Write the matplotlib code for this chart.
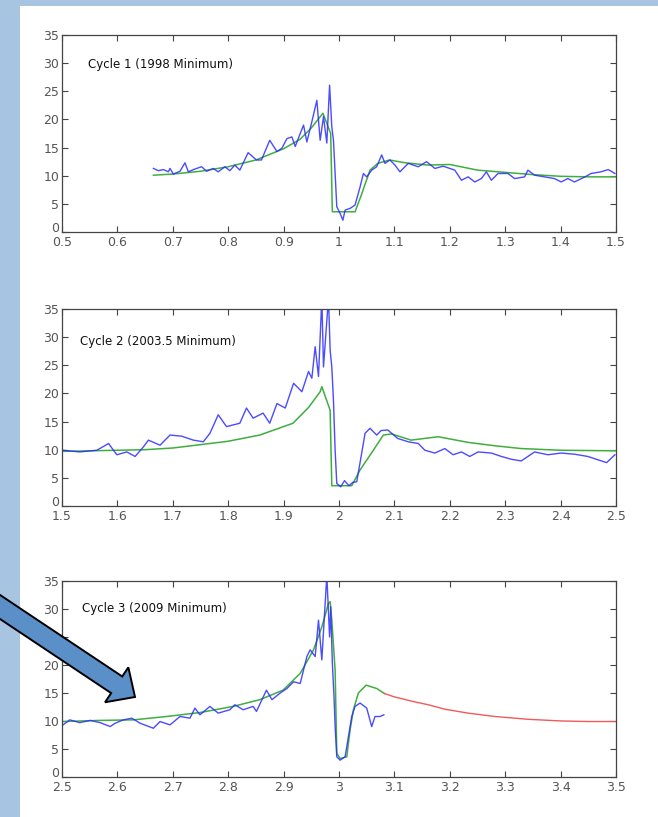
import numpy as np
import matplotlib
matplotlib.use("Agg")
import matplotlib.pyplot as plt
from matplotlib.patches import Rectangle, FancyArrow
from matplotlib.transforms import IdentityTransform

# ---- cycle 1 (1998 minimum) ----
c1_obs_x = [0.665, 0.674, 0.683, 0.692, 0.695, 0.701, 0.713, 0.722, 0.728, 0.740,
            0.752, 0.761, 0.773, 0.782, 0.794, 0.803, 0.812, 0.821, 0.836, 0.851,
            0.860, 0.875, 0.888, 0.897, 0.906, 0.915, 0.921, 0.930, 0.936, 0.942,
            0.951, 0.960, 0.966, 0.972, 0.978, 0.983, 0.987, 0.990, 0.993, 0.996,
            1.002, 1.007, 1.011, 1.020, 1.029, 1.038, 1.044, 1.050, 1.059, 1.068,
            1.077, 1.083, 1.092, 1.101, 1.110, 1.125, 1.143, 1.158, 1.173, 1.188,
            1.209, 1.221, 1.233, 1.245, 1.257, 1.266, 1.275, 1.287, 1.305, 1.317,
            1.335, 1.341, 1.353, 1.371, 1.389, 1.401, 1.413, 1.425, 1.444, 1.455,
            1.473, 1.486, 1.498]
c1_obs_y = [11.3, 10.9, 11.1, 10.7, 11.3, 10.3, 10.8, 12.3, 10.7, 11.2,
            11.6, 10.8, 11.3, 10.7, 11.6, 10.9, 11.9, 11.0, 14.1, 12.8,
            12.8, 16.3, 14.3, 14.9, 16.6, 16.9, 15.2, 17.5, 19.0, 16.0,
            19.6, 23.4, 16.3, 20.5, 15.8, 26.1, 18.7, 16.3, 10.4, 4.5,
            3.3, 2.1, 3.9, 4.2, 4.8, 8.0, 10.4, 9.8, 11.0, 11.6,
            13.7, 12.2, 12.8, 11.9, 10.7, 12.2, 11.6, 12.5, 11.3, 11.7,
            11.0, 9.2, 9.8, 8.9, 9.5, 10.7, 9.2, 10.4, 10.4, 9.5,
            9.8, 11.0, 10.1, 9.8, 9.5, 8.9, 9.5, 8.9, 9.8, 10.4,
            10.7, 11.1, 10.4]
c1_fit_x = [0.665, 0.70, 0.75, 0.80, 0.85, 0.90, 0.93, 0.95, 0.971, 0.985, 0.988,
            1.029, 1.040, 1.056, 1.070, 1.091, 1.12, 1.16, 1.20, 1.25, 1.30,
            1.35, 1.40, 1.45, 1.50]
c1_fit_y = [10.1, 10.3, 10.8, 11.6, 12.8, 14.8, 16.5, 18.5, 21.1, 17.5, 3.6,
            3.6, 6.5, 11.0, 12.2, 12.8, 12.3, 11.9, 12.0, 11.0, 10.6,
            10.2, 9.9, 9.8, 9.8]

# ---- cycle 2 (2003.5 minimum) ----
c2_obs_x = [1.502, 1.532, 1.563, 1.584, 1.599, 1.617, 1.632, 1.647, 1.656, 1.677,
            1.695, 1.716, 1.737, 1.755, 1.767, 1.782, 1.797, 1.821, 1.833, 1.845,
            1.863, 1.875, 1.888, 1.903, 1.918, 1.933, 1.945, 1.951, 1.957, 1.963,
            1.969, 1.972, 1.981, 1.984, 1.987, 1.990, 1.993, 1.996, 2.003, 2.010,
            2.018, 2.025, 2.032, 2.041, 2.047, 2.056, 2.068, 2.076, 2.088, 2.106,
            2.125, 2.143, 2.155, 2.173, 2.191, 2.206, 2.221, 2.236, 2.251, 2.275,
            2.293, 2.311, 2.329, 2.353, 2.377, 2.401, 2.425, 2.449, 2.483, 2.498]
c2_obs_y = [9.9, 9.6, 9.9, 11.1, 9.1, 9.6, 8.8, 10.5, 11.7, 10.8,
            12.6, 12.4, 11.7, 11.4, 12.9, 16.2, 14.1, 14.7, 17.4, 15.6,
            16.5, 14.7, 18.2, 17.4, 21.8, 20.3, 23.9, 22.7, 28.3, 23.0,
            37.0, 24.7, 37.0, 27.7, 24.7, 18.8, 9.9, 4.0, 3.4, 4.5,
            3.6, 4.2, 4.3, 9.4, 12.9, 13.8, 12.6, 13.4, 13.5, 12.0,
            11.4, 11.1, 9.9, 9.4, 10.2, 9.1, 9.6, 8.8, 9.6, 9.4,
            8.8, 8.3, 8.0, 9.6, 9.1, 9.4, 9.2, 8.8, 7.7, 9.1]
c2_fit_x = [1.50, 1.55, 1.60, 1.65, 1.70, 1.767, 1.80, 1.857, 1.917, 1.945,
            1.966, 1.969, 1.984, 1.987, 2.023, 2.038, 2.062, 2.080, 2.095, 2.13,
            2.179, 2.233, 2.281, 2.329, 2.40, 2.50]
c2_fit_y = [9.7, 9.8, 9.9, 10.0, 10.3, 11.1, 11.5, 12.6, 14.7, 17.5,
            20.3, 21.2, 17.0, 3.6, 3.6, 6.4, 9.9, 12.6, 12.8, 11.7,
            12.3, 11.3, 10.7, 10.2, 9.9, 9.8]

# ---- cycle 3 (2009 minimum) ----
c3_obs_x = [2.502, 2.514, 2.532, 2.551, 2.569, 2.587, 2.596, 2.611, 2.626, 2.641,
            2.665, 2.677, 2.695, 2.713, 2.731, 2.740, 2.749, 2.767, 2.782, 2.803,
            2.812, 2.827, 2.845, 2.851, 2.869, 2.879, 2.894, 2.906, 2.918, 2.930,
            2.942, 2.948, 2.957, 2.963, 2.969, 2.978, 2.983, 2.985, 2.988, 2.991,
            2.993, 2.996, 3.002, 3.011, 3.017, 3.023, 3.029, 3.038, 3.050, 3.059,
            3.065, 3.074, 3.081]
c3_obs_y = [9.3, 10.2, 9.7, 10.1, 9.7, 9.0, 9.6, 10.2, 10.5, 9.6,
            8.7, 9.9, 9.3, 10.8, 10.5, 12.3, 11.1, 12.6, 11.4, 12.0,
            12.9, 12.0, 12.6, 11.7, 15.5, 13.8, 15.0, 15.8, 17.0, 16.7,
            21.5, 22.7, 21.5, 28.0, 20.9, 36.0, 25.0, 30.4, 20.3, 14.3,
            9.0, 3.6, 3.0, 3.6, 7.2, 10.8, 12.6, 13.2, 12.3, 9.0,
            10.8, 10.8, 11.1]
c3_fit_x = [2.50, 2.569, 2.629, 2.689, 2.749, 2.809, 2.857, 2.899, 2.930, 2.954,
            2.969, 2.981, 2.984, 2.987, 2.993, 2.996, 3.002, 3.014, 3.020, 3.026,
            3.035, 3.049, 3.068, 3.082]
c3_fit_y = [9.9, 10.1, 10.2, 10.8, 11.5, 12.6, 13.8, 15.5, 18.5, 22.7,
            26.8, 31.0, 31.3, 28.0, 19.0, 4.2, 3.3, 3.6, 8.4, 12.0,
            15.0, 16.4, 15.8, 14.9]
c3_pred_x = [3.082, 3.100, 3.137, 3.161, 3.191, 3.233, 3.281, 3.341, 3.401, 3.450, 3.498]
c3_pred_y = [14.9, 14.3, 13.4, 12.9, 12.1, 11.4, 10.8, 10.3, 10.0, 9.9, 9.9]

titles = ["Cycle 1 (1998 Minimum)", "Cycle 2 (2003.5 Minimum)", "Cycle 3 (2009 Minimum)"]
xranges = [(0.5, 1.5), (1.5, 2.5), (2.5, 3.5)]
title_pos = [(0.547, 29.7), (1.532, 29.3), (2.536, 30.0)]

blue = "#2b2bff"
green = "#3fae3f"
red = "#ef5a5a"

fig = plt.figure(figsize=(6.58, 8.17), dpi=100, facecolor="#a7c4e1")
fig.add_artist(Rectangle((20 / 658, 0), 638 / 658, 811 / 817, transform=fig.transFigure,
                         facecolor="white", edgecolor="none", zorder=-10))

boxes = [[0.0942, 0.7160, 0.842, 0.2411],
         [0.0942, 0.3807, 0.842, 0.2411],
         [0.0942, 0.0490, 0.842, 0.2399]]
obs = [(c1_obs_x, c1_obs_y), (c2_obs_x, c2_obs_y), (c3_obs_x, c3_obs_y)]
fits = [(c1_fit_x, c1_fit_y), (c2_fit_x, c2_fit_y), (c3_fit_x, c3_fit_y)]

for i in range(3):
    ax = fig.add_axes(boxes[i])
    ax.plot(fits[i][0], fits[i][1], color=green, lw=1.1)
    ax.plot(obs[i][0], obs[i][1], color=blue, lw=1.0, alpha=0.85)
    if i == 2:
        ax.plot(c3_pred_x, c3_pred_y, color=red, lw=1.0)
    lo, hi = xranges[i]
    ax.set_xlim(lo, hi)
    ax.set_ylim(0, 35)
    xt = np.round(np.arange(lo, hi + 0.001, 0.1), 1)
    ax.set_xticks(xt)
    ax.set_xticklabels(["%g" % v for v in xt])
    ax.set_yticks(range(0, 36, 5))
    ax.tick_params(direction="in", length=4, width=0.8, top=True, right=True,
                   labelsize=9, labelcolor="#555555", color="#444444")
    ax.tick_params(axis="x", pad=3)
    ax.tick_params(axis="y", pad=2)
    # sit the "0" on the axis line so it clears the first x label
    ax.get_yticklabels()[0].set_verticalalignment("baseline")
    for s in ax.spines.values():
        s.set_color("#444444")
        s.set_linewidth(0.9)
    ax.text(title_pos[i][0], title_pos[i][1], titles[i], fontsize=8.5,
            color="#111111", va="center", ha="left")

# pointer arrow over the lower panel (pixel coordinates)
arrow = FancyArrow(-10, 216.7, 145, -96.7, width=20, head_width=42, head_length=22,
                   length_includes_head=True, transform=IdentityTransform(),
                   facecolor="#5b8fc8", edgecolor="black", linewidth=1.4, zorder=20)
fig.add_artist(arrow)

fig.savefig("out.png", dpi=100, facecolor=fig.get_facecolor())
